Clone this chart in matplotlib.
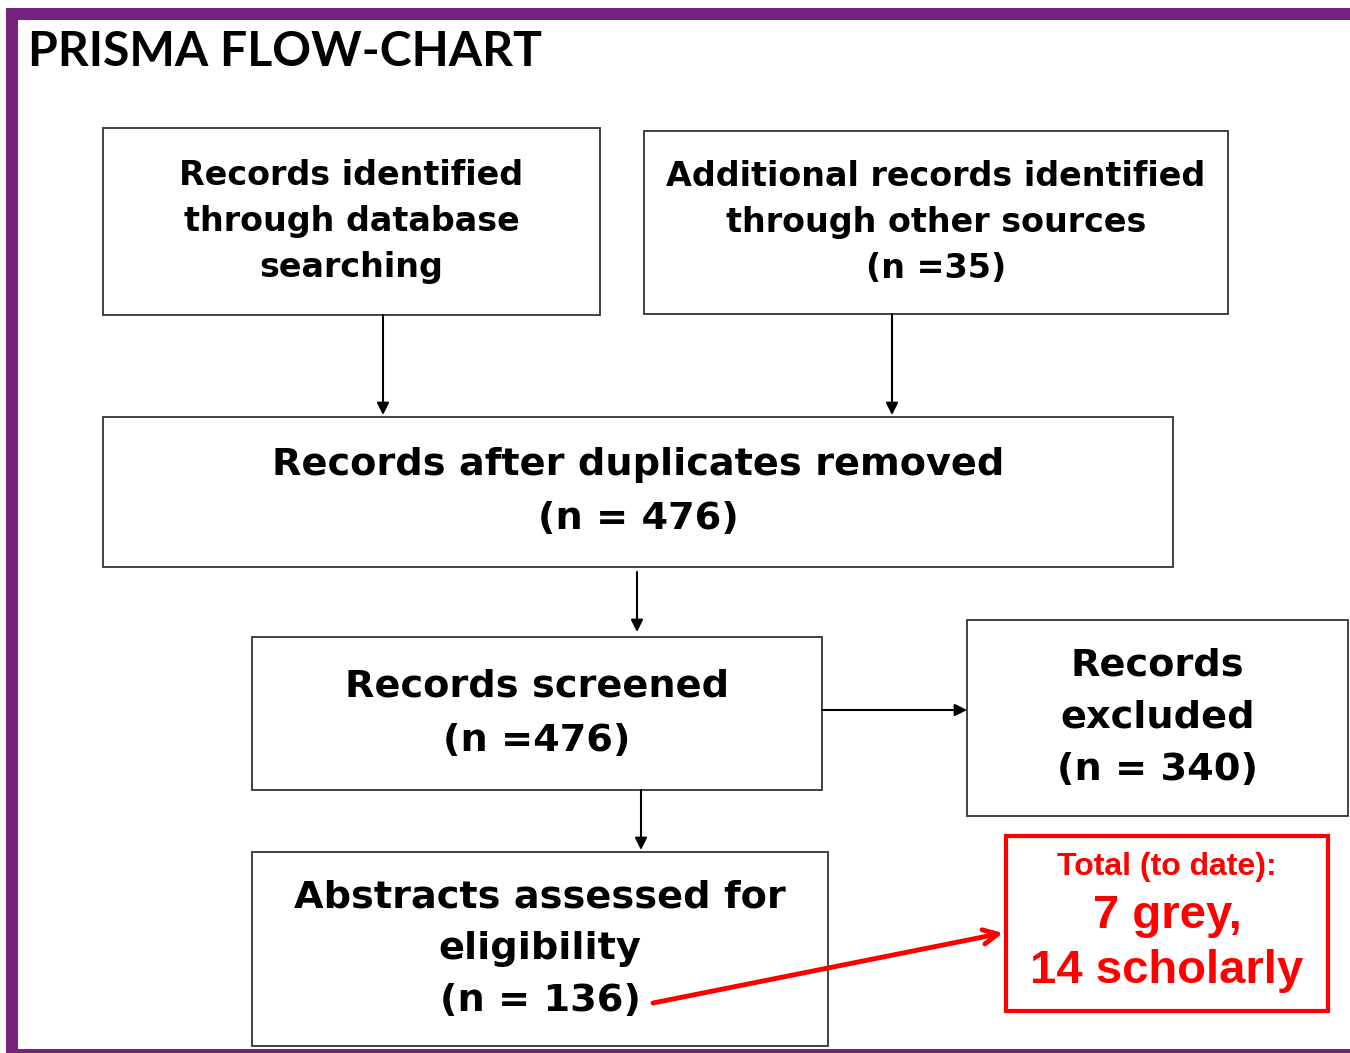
import matplotlib.pyplot as plt
from matplotlib.patches import Rectangle, FancyArrowPatch

# flow-chart content
title = "PRISMA FLOW-CHART"
box_texts = [
    "Records identified\nthrough database\nsearching",
    "Additional records identified\nthrough other sources\n(n =35)",
    "Records after duplicates removed\n(n = 476)",
    "Records screened\n(n =476)",
    "Records\nexcluded\n(n = 340)",
    "Abstracts assessed for\neligibility\n(n = 136)",
]
note_lines = ["Total (to date):", "7 grey,", "14 scholarly"]

# layout in pixel coords (x0, y0, x1, y1), font size, line step
boxes = [
    (103, 128, 600, 315, 24, 46),
    (644, 131, 1228, 314, 24, 46),
    (103, 417, 1173, 567, 27.5, 54),
    (252, 637, 822, 790, 27.5, 54),
    (967, 620, 1348, 816, 27.5, 52),
    (252, 852, 828, 1046, 27.5, 52),
]
arrows = [((383, 315), (383, 415)), ((892, 314), (892, 415)),
          ((637, 572), (637, 632)), ((822, 710), (967, 710)),
          ((641, 790), (641, 850))]

W, H = 1350, 1053
fig = plt.figure(figsize=(W / 100, H / 100), dpi=100)
ax = fig.add_axes([0, 0, 1, 1])
ax.set_xlim(0, W)
ax.set_ylim(H, 0)
ax.axis('off')

purple = '#74237f'
# purple frame: top, left, bottom
ax.add_patch(Rectangle((6, 8), W, 12, color=purple, lw=0))
ax.add_patch(Rectangle((6, 8), 12, H, color=purple, lw=0))
ax.add_patch(Rectangle((6, 1049), W, 6, color=purple, lw=0))

ax.text(28, 52, title, fontsize=34.7, fontweight='bold', family='Lato',
        va='center', ha='left', color='black')

for (x0, y0, x1, y1, fs, step), txt in zip(boxes, box_texts):
    ax.add_patch(Rectangle((x0, y0), x1 - x0, y1 - y0, fill=False,
                           edgecolor='#333333', lw=1.3))
    lines = txt.split('\n')
    yc = (y0 + y1) / 2 - (len(lines) - 1) * step / 2
    for i, ln in enumerate(lines):
        ax.text((x0 + x1) / 2, yc + i * step, ln, fontsize=fs,
                fontweight='bold', family='DejaVu Sans',
                ha='center', va='center', color='black')

for (p, q) in arrows:
    ax.add_patch(FancyArrowPatch(p, q, arrowstyle='-|>', mutation_scale=18,
                                 color='black', lw=1.5, shrinkA=0, shrinkB=0))

# red note box
red = '#ff0000'
ax.add_patch(Rectangle((1006, 836), 322, 175, fill=False, edgecolor=red, lw=3))
note_cx = 1167
ax.text(note_cx, 867, note_lines[0], fontsize=23, fontweight='bold',
        family='Liberation Sans', color=red, ha='center', va='center')
ax.text(note_cx, 916, note_lines[1], fontsize=34, fontweight='bold',
        family='Liberation Sans', color=red, ha='center', va='center')
ax.text(note_cx, 971, note_lines[2], fontsize=34, fontweight='bold',
        family='Liberation Sans', color=red, ha='center', va='center')

ax.add_patch(FancyArrowPatch((653, 1003), (1003, 933), arrowstyle='->',
                             mutation_scale=26, color=red, lw=3.5,
                             shrinkA=0, shrinkB=0))

fig.savefig('out.png', dpi=100)
